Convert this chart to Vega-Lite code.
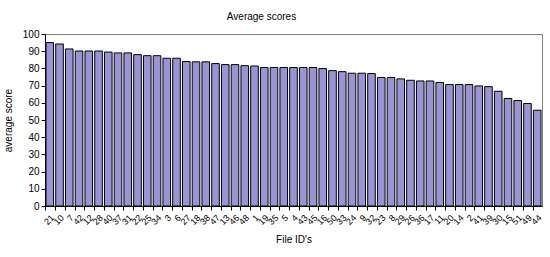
{
  "$schema": "https://vega.github.io/schema/vega-lite/v6.json",
  "autosize": {"type": "none"},
  "width": 497,
  "height": 172,
  "padding": {"left": 45, "top": 34, "right": 8, "bottom": 51},
  "background": "white",
  "title": {
    "text": "Average scores",
    "font": "Liberation Sans",
    "fontSize": 10,
    "fontWeight": "normal",
    "color": "black",
    "anchor": "middle",
    "dx": -32,
    "offset": 7
  },
  "data": {
    "values": [
      {"id": "21", "score": 95.0},
      {"id": "10", "score": 94.2},
      {"id": "7", "score": 91.3},
      {"id": "42", "score": 90.1},
      {"id": "12", "score": 90.1},
      {"id": "28", "score": 90.1},
      {"id": "40", "score": 89.5},
      {"id": "37", "score": 89.0},
      {"id": "31", "score": 89.0},
      {"id": "22", "score": 88.0},
      {"id": "25", "score": 87.4},
      {"id": "34", "score": 87.4},
      {"id": "3", "score": 85.9},
      {"id": "6", "score": 85.9},
      {"id": "27", "score": 84.0},
      {"id": "18", "score": 83.8},
      {"id": "38", "score": 83.8},
      {"id": "47", "score": 82.8},
      {"id": "13", "score": 82.2},
      {"id": "46", "score": 82.2},
      {"id": "48", "score": 81.6},
      {"id": "1", "score": 81.4},
      {"id": "19", "score": 80.5},
      {"id": "35", "score": 80.5},
      {"id": "5", "score": 80.5},
      {"id": "4", "score": 80.5},
      {"id": "43", "score": 80.5},
      {"id": "45", "score": 80.5},
      {"id": "16", "score": 79.9},
      {"id": "50", "score": 78.7},
      {"id": "33", "score": 78.1},
      {"id": "24", "score": 77.2},
      {"id": "9", "score": 77.2},
      {"id": "32", "score": 77.0},
      {"id": "23", "score": 74.7},
      {"id": "8", "score": 74.7},
      {"id": "29", "score": 73.9},
      {"id": "26", "score": 73.1},
      {"id": "36", "score": 72.7},
      {"id": "17", "score": 72.7},
      {"id": "11", "score": 71.8},
      {"id": "20", "score": 70.6},
      {"id": "14", "score": 70.6},
      {"id": "2", "score": 70.6},
      {"id": "41", "score": 69.8},
      {"id": "39", "score": 69.4},
      {"id": "30", "score": 66.7},
      {"id": "15", "score": 62.5},
      {"id": "51", "score": 61.3},
      {"id": "49", "score": 59.6},
      {"id": "44", "score": 55.7}
    ]
  },
  "mark": {"type": "bar", "fill": "#9A94D6", "stroke": "black", "strokeWidth": 1},
  "encoding": {
    "x": {
      "field": "id",
      "type": "nominal",
      "sort": null,
      "scale": {"paddingInner": 0.22, "paddingOuter": 0.1},
      "axis": {
        "title": "File ID's",
        "titleFont": "Liberation Sans",
        "titleFontSize": 10,
        "titleFontWeight": "normal",
        "titleColor": "black",
        "titlePadding": 8,
        "labelAngle": -45,
        "labelFont": "Liberation Sans",
        "labelFontSize": 9,
        "labelColor": "black",
        "labelPadding": 3,
        "bandPosition": 0,
        "tickColor": "black",
        "tickSize": 4,
        "domainColor": "black",
        "grid": false
      }
    },
    "y": {
      "field": "score",
      "type": "quantitative",
      "scale": {"domain": [0, 100], "nice": false},
      "axis": {
        "title": "average score",
        "titleFont": "Liberation Sans",
        "titleFontSize": 10,
        "titleFontWeight": "normal",
        "titleColor": "black",
        "titlePadding": 9,
        "values": [0, 10, 20, 30, 40, 50, 60, 70, 80, 90, 100],
        "labelFont": "Liberation Sans",
        "labelFontSize": 10,
        "labelColor": "black",
        "labelPadding": 2,
        "tickColor": "black",
        "tickSize": 4,
        "domainColor": "black",
        "grid": false
      }
    }
  },
  "config": {
    "view": {"stroke": "#808080", "strokeWidth": 1}
  }
}
